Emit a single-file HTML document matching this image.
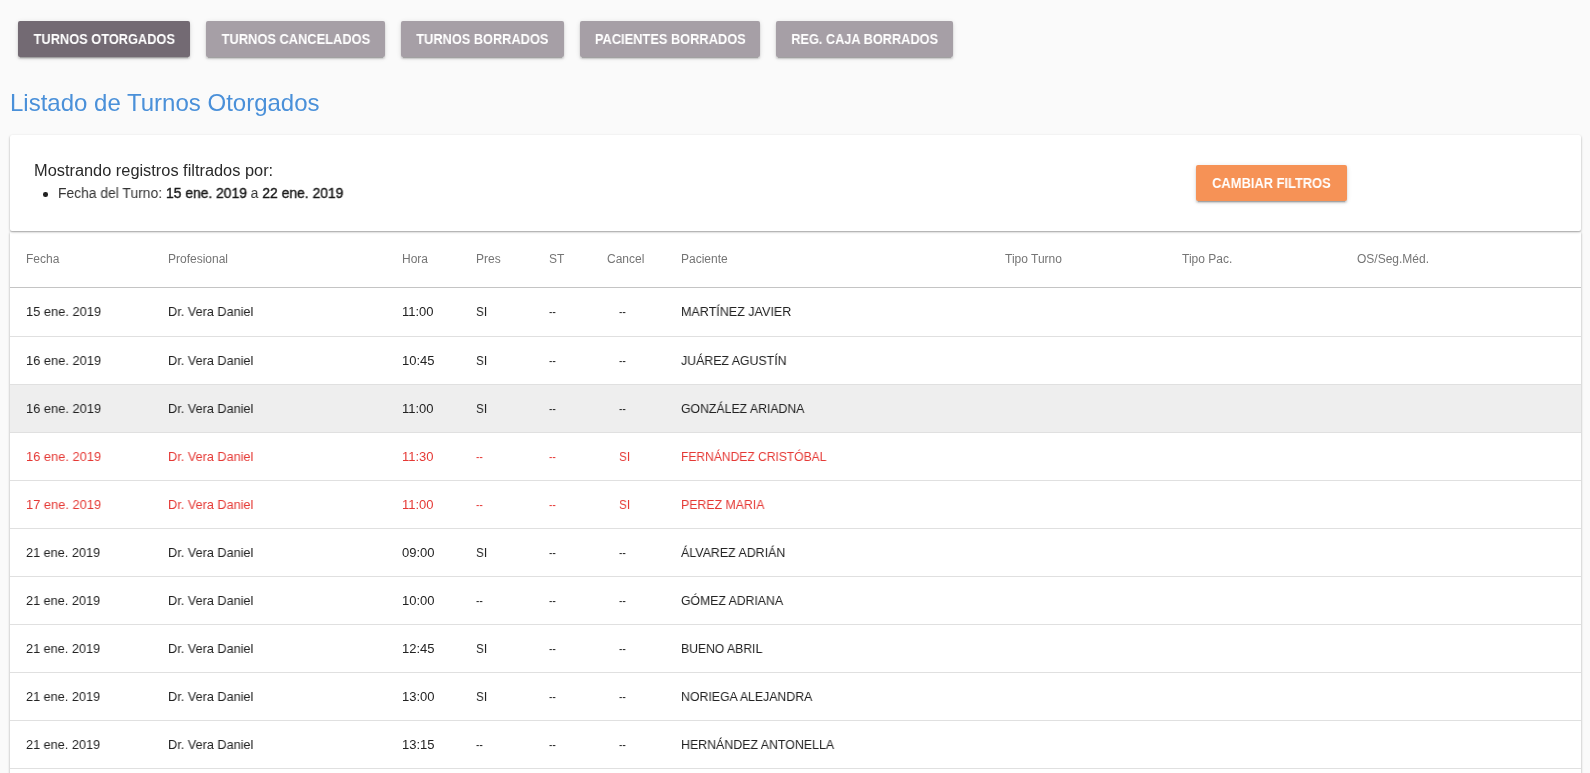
<!DOCTYPE html><html><head><meta charset="utf-8"><style>
*{margin:0;padding:0;box-sizing:border-box}
html,body{width:1590px;height:773px;overflow:hidden;background:#fafafa;font-family:"Liberation Sans",sans-serif;position:relative}
.btn{position:absolute;top:21px;height:36px;border-radius:2px;color:#fff;font-weight:bold;font-size:14px;line-height:36px;text-align:center;white-space:nowrap;
box-shadow:0 2px 2px 0 rgba(0,0,0,.14),0 3px 1px -2px rgba(0,0,0,.2),0 1px 5px 0 rgba(0,0,0,.12);background:#a69fa6}
.btn.act{background:#736a73}
.btn span{display:inline-block;transform-origin:50% 50%;will-change:transform}
.title{position:absolute;left:10px;top:88px;font-size:24px;line-height:30px;color:#4a90d9;white-space:nowrap;transform:translateZ(0)}
.card{position:absolute;left:10px;width:1571px;background:#fff;box-shadow:0 1px 3px rgba(0,0,0,.12),0 1px 2px rgba(0,0,0,.24)}
.t{position:absolute;white-space:nowrap;transform-origin:0 50%;will-change:transform}
.h{font-size:12px;color:#757575}
.d{font-size:13px;color:#222}
.red .d{color:#e53935}
.row{position:absolute;left:0;width:1571px;border-bottom:1px solid #e0e0e0}
.row.hl{background:#eeeeee}
</style></head><body>
<div class="btn act" style="left:18px;width:172px"><span id="b1" style="transform:scaleX(0.9144)">TURNOS OTORGADOS</span></div>
<div class="btn" style="left:206px;width:179px"><span id="b2" style="transform:scaleX(0.9180)">TURNOS CANCELADOS</span></div>
<div class="btn" style="left:401px;width:163px"><span id="b3" style="transform:scaleX(0.9133)">TURNOS BORRADOS</span></div>
<div class="btn" style="left:580px;width:180px"><span id="b4" style="transform:scaleX(0.9160)">PACIENTES BORRADOS</span></div>
<div class="btn" style="left:776px;width:177px"><span id="b5" style="transform:scaleX(0.9094)">REG. CAJA BORRADOS</span></div>
<div class="title">Listado de Turnos Otorgados</div>
<div class="card" style="top:135px;height:96px;border-radius:2px;z-index:2">
<div class="t" id="fl1" style="left:24px;top:26px;font-size:16px;line-height:20px;color:#2a2a2a;transform:scaleX(1.0225)">Mostrando registros filtrados por:</div>
<div style="position:absolute;left:33px;top:57px;width:4.5px;height:4.5px;border-radius:50%;background:#222"></div>
<div class="t" id="fl2" style="left:48px;top:49px;font-size:14px;line-height:18px;color:#333;transform:scaleX(0.9906)">Fecha del Turno: <span style="color:#1a1a1a;-webkit-text-stroke:0.4px #1a1a1a">15 ene. 2019</span> a <span style="color:#1a1a1a;-webkit-text-stroke:0.4px #1a1a1a">22 ene. 2019</span></div>
<div class="btn" style="left:1186px;top:30px;width:151px;background:#f69256;font-size:14px"><span id="ob" style="transform:scaleX(0.9203)">CAMBIAR FILTROS</span></div>
</div>
<div class="card" style="top:232px;height:560px">
<div class="row" style="top:0;height:56px;border-bottom-color:#c4c4c4">
<div class="t h" style="left:16px;top:20px;line-height:15px;transform:translateZ(0)">Fecha</div>
<div class="t h" style="left:158px;top:20px;line-height:15px;transform:translateZ(0)">Profesional</div>
<div class="t h" style="left:392px;top:20px;line-height:15px;transform:translateZ(0)">Hora</div>
<div class="t h" style="left:466px;top:20px;line-height:15px;transform:translateZ(0)">Pres</div>
<div class="t h" style="left:539px;top:20px;line-height:15px;transform:translateZ(0)">ST</div>
<div class="t h" style="left:597px;top:20px;line-height:15px;transform:translateZ(0)">Cancel</div>
<div class="t h" style="left:671px;top:20px;line-height:15px;transform:translateZ(0)">Paciente</div>
<div class="t h" style="left:995px;top:20px;line-height:15px;transform:translateZ(0)">Tipo Turno</div>
<div class="t h" style="left:1172px;top:20px;line-height:15px;transform:translateZ(0)">Tipo Pac.</div>
<div class="t h" style="left:1347px;top:20px;line-height:15px;transform:translateZ(0)">OS/Seg.Méd.</div>
</div>
<div class="row" style="top:56px;height:49px">
<div class="t d" id="r0d" style="left:16px;top:16px;line-height:16px;transform:scaleX(0.9892)">15 ene. 2019</div>
<div class="t d" id="r0p" style="left:158px;top:16px;line-height:16px;transform:scaleX(0.9765)">Dr. Vera Daniel</div>
<div class="t d" style="left:392px;top:16px;line-height:16px;transform:scaleX(1.0)">11:00</div>
<div class="t d" style="left:466px;top:16px;line-height:16px;transform:scaleX(0.9)">SI</div>
<div class="t d" style="left:539px;top:16px;line-height:16px;transform:scaleX(0.8)">--</div>
<div class="t d" id="r0n" style="left:671px;top:16px;line-height:16px;transform:scaleX(0.9643)">MARTÍNEZ JAVIER</div>
<div class="t d" style="left:609px;top:16px;line-height:16px;transform:scaleX(0.8)">--</div>
</div>
<div class="row" style="top:105px;height:48px">
<div class="t d" id="r1d" style="left:16px;top:16px;line-height:16px;transform:scaleX(0.9892)">16 ene. 2019</div>
<div class="t d" id="r1p" style="left:158px;top:16px;line-height:16px;transform:scaleX(0.9765)">Dr. Vera Daniel</div>
<div class="t d" style="left:392px;top:16px;line-height:16px;transform:scaleX(1.0)">10:45</div>
<div class="t d" style="left:466px;top:16px;line-height:16px;transform:scaleX(0.9)">SI</div>
<div class="t d" style="left:539px;top:16px;line-height:16px;transform:scaleX(0.8)">--</div>
<div class="t d" id="r1n" style="left:671px;top:16px;line-height:16px;transform:scaleX(0.9495)">JUÁREZ AGUSTÍN</div>
<div class="t d" style="left:609px;top:16px;line-height:16px;transform:scaleX(0.8)">--</div>
</div>
<div class="row hl" style="top:153px;height:48px">
<div class="t d" id="r2d" style="left:16px;top:16px;line-height:16px;transform:scaleX(0.9892)">16 ene. 2019</div>
<div class="t d" id="r2p" style="left:158px;top:16px;line-height:16px;transform:scaleX(0.9765)">Dr. Vera Daniel</div>
<div class="t d" style="left:392px;top:16px;line-height:16px;transform:scaleX(1.0)">11:00</div>
<div class="t d" style="left:466px;top:16px;line-height:16px;transform:scaleX(0.9)">SI</div>
<div class="t d" style="left:539px;top:16px;line-height:16px;transform:scaleX(0.8)">--</div>
<div class="t d" id="r2n" style="left:671px;top:16px;line-height:16px;transform:scaleX(0.9438)">GONZÁLEZ ARIADNA</div>
<div class="t d" style="left:609px;top:16px;line-height:16px;transform:scaleX(0.8)">--</div>
</div>
<div class="row red" style="top:201px;height:48px">
<div class="t d" id="r3d" style="left:16px;top:16px;line-height:16px;transform:scaleX(0.9892)">16 ene. 2019</div>
<div class="t d" id="r3p" style="left:158px;top:16px;line-height:16px;transform:scaleX(0.9765)">Dr. Vera Daniel</div>
<div class="t d" style="left:392px;top:16px;line-height:16px;transform:scaleX(1.0)">11:30</div>
<div class="t d" style="left:466px;top:16px;line-height:16px;transform:scaleX(0.8)">--</div>
<div class="t d" style="left:539px;top:16px;line-height:16px;transform:scaleX(0.8)">--</div>
<div class="t d" id="r3n" style="left:671px;top:16px;line-height:16px;transform:scaleX(0.9277)">FERNÁNDEZ CRISTÓBAL</div>
<div class="t d" style="left:609px;top:16px;line-height:16px;transform:scaleX(0.9)">SI</div>
</div>
<div class="row red" style="top:249px;height:48px">
<div class="t d" id="r4d" style="left:16px;top:16px;line-height:16px;transform:scaleX(0.9892)">17 ene. 2019</div>
<div class="t d" id="r4p" style="left:158px;top:16px;line-height:16px;transform:scaleX(0.9765)">Dr. Vera Daniel</div>
<div class="t d" style="left:392px;top:16px;line-height:16px;transform:scaleX(1.0)">11:00</div>
<div class="t d" style="left:466px;top:16px;line-height:16px;transform:scaleX(0.8)">--</div>
<div class="t d" style="left:539px;top:16px;line-height:16px;transform:scaleX(0.8)">--</div>
<div class="t d" id="r4n" style="left:671px;top:16px;line-height:16px;transform:scaleX(0.9465)">PEREZ MARIA</div>
<div class="t d" style="left:609px;top:16px;line-height:16px;transform:scaleX(0.9)">SI</div>
</div>
<div class="row" style="top:297px;height:48px">
<div class="t d" id="r5d" style="left:16px;top:16px;line-height:16px;transform:scaleX(0.9760)">21 ene. 2019</div>
<div class="t d" id="r5p" style="left:158px;top:16px;line-height:16px;transform:scaleX(0.9765)">Dr. Vera Daniel</div>
<div class="t d" style="left:392px;top:16px;line-height:16px;transform:scaleX(1.0)">09:00</div>
<div class="t d" style="left:466px;top:16px;line-height:16px;transform:scaleX(0.9)">SI</div>
<div class="t d" style="left:539px;top:16px;line-height:16px;transform:scaleX(0.8)">--</div>
<div class="t d" id="r5n" style="left:671px;top:16px;line-height:16px;transform:scaleX(0.9537)">ÁLVAREZ ADRIÁN</div>
<div class="t d" style="left:609px;top:16px;line-height:16px;transform:scaleX(0.8)">--</div>
</div>
<div class="row" style="top:345px;height:48px">
<div class="t d" id="r6d" style="left:16px;top:16px;line-height:16px;transform:scaleX(0.9760)">21 ene. 2019</div>
<div class="t d" id="r6p" style="left:158px;top:16px;line-height:16px;transform:scaleX(0.9765)">Dr. Vera Daniel</div>
<div class="t d" style="left:392px;top:16px;line-height:16px;transform:scaleX(1.0)">10:00</div>
<div class="t d" style="left:466px;top:16px;line-height:16px;transform:scaleX(0.8)">--</div>
<div class="t d" style="left:539px;top:16px;line-height:16px;transform:scaleX(0.8)">--</div>
<div class="t d" id="r6n" style="left:671px;top:16px;line-height:16px;transform:scaleX(0.9417)">GÓMEZ ADRIANA</div>
<div class="t d" style="left:609px;top:16px;line-height:16px;transform:scaleX(0.8)">--</div>
</div>
<div class="row" style="top:393px;height:48px">
<div class="t d" id="r7d" style="left:16px;top:16px;line-height:16px;transform:scaleX(0.9760)">21 ene. 2019</div>
<div class="t d" id="r7p" style="left:158px;top:16px;line-height:16px;transform:scaleX(0.9765)">Dr. Vera Daniel</div>
<div class="t d" style="left:392px;top:16px;line-height:16px;transform:scaleX(1.0)">12:45</div>
<div class="t d" style="left:466px;top:16px;line-height:16px;transform:scaleX(0.9)">SI</div>
<div class="t d" style="left:539px;top:16px;line-height:16px;transform:scaleX(0.8)">--</div>
<div class="t d" id="r7n" style="left:671px;top:16px;line-height:16px;transform:scaleX(0.9376)">BUENO ABRIL</div>
<div class="t d" style="left:609px;top:16px;line-height:16px;transform:scaleX(0.8)">--</div>
</div>
<div class="row" style="top:441px;height:48px">
<div class="t d" id="r8d" style="left:16px;top:16px;line-height:16px;transform:scaleX(0.9760)">21 ene. 2019</div>
<div class="t d" id="r8p" style="left:158px;top:16px;line-height:16px;transform:scaleX(0.9765)">Dr. Vera Daniel</div>
<div class="t d" style="left:392px;top:16px;line-height:16px;transform:scaleX(1.0)">13:00</div>
<div class="t d" style="left:466px;top:16px;line-height:16px;transform:scaleX(0.9)">SI</div>
<div class="t d" style="left:539px;top:16px;line-height:16px;transform:scaleX(0.8)">--</div>
<div class="t d" id="r8n" style="left:671px;top:16px;line-height:16px;transform:scaleX(0.9467)">NORIEGA ALEJANDRA</div>
<div class="t d" style="left:609px;top:16px;line-height:16px;transform:scaleX(0.8)">--</div>
</div>
<div class="row" style="top:489px;height:48px">
<div class="t d" id="r9d" style="left:16px;top:16px;line-height:16px;transform:scaleX(0.9760)">21 ene. 2019</div>
<div class="t d" id="r9p" style="left:158px;top:16px;line-height:16px;transform:scaleX(0.9765)">Dr. Vera Daniel</div>
<div class="t d" style="left:392px;top:16px;line-height:16px;transform:scaleX(1.0)">13:15</div>
<div class="t d" style="left:466px;top:16px;line-height:16px;transform:scaleX(0.8)">--</div>
<div class="t d" style="left:539px;top:16px;line-height:16px;transform:scaleX(0.8)">--</div>
<div class="t d" id="r9n" style="left:671px;top:16px;line-height:16px;transform:scaleX(0.9516)">HERNÁNDEZ ANTONELLA</div>
<div class="t d" style="left:609px;top:16px;line-height:16px;transform:scaleX(0.8)">--</div>
</div>
</div>
</body></html>
